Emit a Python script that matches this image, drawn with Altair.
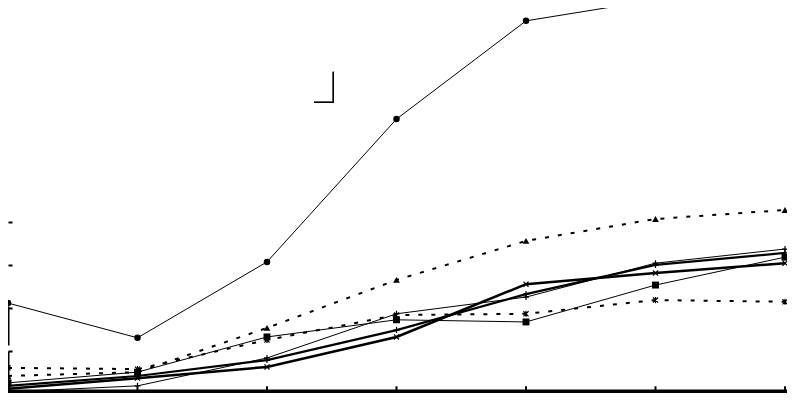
import altair as alt
import pandas as pd

# x categories (7 positions along the horizontal axis)
categories = [0, 1, 2, 3, 4, 5, 6]

# series values
circle_vals = [21.2, 13.1, 30.8, 64.1, 87.0, 91.9, 95.4]
triangle_vals = [4.2, 5.1, 15.4, 26.6, 35.7, 40.8, 42.9]
star_vals = [6.1, 5.8, 12.6, 18.4, 18.7, 21.9, 21.5]
square_vals = [2.6, 5.1, 13.3, 17.3, 16.8, 25.4, 31.9]
plus_thin_vals = [0.5, 1.9, 8.4, 18.7, 22.6, 30.5, 33.8]
plus_thick_vals = [1.9, 4.2, 7.9, 14.9, 23.3, 30.1, 32.9]
x_thick_vals = [1.2, 3.7, 6.3, 13.3, 25.6, 28.2, 30.5]

# y axis tick values and the two fragments of the vertical axis line
y_ticks = [10, 20, 30, 40]
yaxis_lo = [0, 11.3]
yaxis_hi = [9.9, 20.4]
# x tick marks drawn as short rules rising from the axis line
xtick_lo = [0] * 7
xtick_hi = [1.8] * 7

PLUS = "M-1,0L1,0M0,-1L0,1"
CROSS = "M-1,-1L1,1M-1,1L1,-1"
STAR = "M-1,-1L1,1M-1,1L1,-1M0,-1.2L0,1.2"

series = [
    ("circle", circle_vals, {"strokeWidth": 1}, {"shape": "circle", "filled": True, "size": 42}),
    ("triangle", triangle_vals, {"strokeWidth": 2, "strokeDash": [4, 9]}, {"shape": "triangle-up", "filled": True, "size": 45}),
    ("star", star_vals, {"strokeWidth": 2, "strokeDash": [4, 9]}, {"shape": STAR, "filled": False, "size": 26, "strokeWidth": 1.2}),
    ("square", square_vals, {"strokeWidth": 1}, {"shape": "square", "filled": True, "size": 48}),
    ("plus_thin", plus_thin_vals, {"strokeWidth": 1}, {"shape": PLUS, "filled": False, "size": 36, "strokeWidth": 1.2}),
    ("plus_thick", plus_thick_vals, {"strokeWidth": 2.2}, {"shape": PLUS, "filled": False, "size": 36, "strokeWidth": 1.2}),
    ("x_thick", x_thick_vals, {"strokeWidth": 2.5}, {"shape": CROSS, "filled": False, "size": 26, "strokeWidth": 1.2}),
]

W, H = 779, 385
PX_PER_UNIT = 4.289
Y_MIN = 1 / PX_PER_UNIT
x_scale = alt.Scale(domain=[0, W / 129.5], nice=False, zero=False)
y_scale = alt.Scale(domain=[Y_MIN, Y_MIN + H / PX_PER_UNIT], nice=False, zero=False)

x_axis = alt.Axis(values=categories, labels=False, title=None, grid=False,
                  domainWidth=4, domainColor="black", tickColor="black",
                  tickWidth=2, tickSize=7, offset=-2)
y_axis = alt.Axis(values=y_ticks, labels=False, title=None, grid=False,
                  domain=False, tickColor="black", tickWidth=2, tickSize=4,
                  offset=-4)


def enc_x(field="x"):
    return alt.X(f"{field}:Q", scale=x_scale, axis=x_axis)


def enc_y(field="y"):
    return alt.Y(f"{field}:Q", scale=y_scale, axis=y_axis)


layers = []
for name, vals, line_style, point_style in series:
    df = pd.DataFrame({"x": categories, "y": vals, "s": name})
    base = alt.Chart(df)
    layers.append(base.mark_line(color="black", clip=False, **line_style).encode(x=enc_x(), y=enc_y()))
    layers.append(base.mark_point(color="black", clip=False, opacity=1, **point_style).encode(x=enc_x(), y=enc_y()))

seg_df = pd.DataFrame({"x": [categories[0]] * len(yaxis_lo), "lo": yaxis_lo, "hi": yaxis_hi})
layers.append(alt.Chart(seg_df).mark_rule(color="black", strokeWidth=3).encode(
    x=enc_x(), y=enc_y("lo"), y2="hi:Q"))

tick_df = pd.DataFrame({"x": categories, "lo": xtick_lo, "hi": xtick_hi})
layers.append(alt.Chart(tick_df).mark_rule(color="black", strokeWidth=2).encode(
    x=enc_x(), y=enc_y("lo"), y2="hi:Q"))

# small corner fragment in the upper middle
layers.append(alt.Chart(seg_df).mark_rule(color="black", strokeWidth=1.4).encode(
    x=alt.value(325.3), y=alt.value(63.7), y2=alt.value(94.8)))
layers.append(alt.Chart(seg_df).mark_rule(color="black", strokeWidth=1.4).encode(
    x=alt.value(306), x2=alt.value(326), y=alt.value(94.3)))

chart = alt.layer(*layers).properties(
    width=W, height=H,
    padding={"left": 0, "top": 0, "right": 0, "bottom": 0},
    autosize=alt.AutoSizeParams(type="none"),
    background="white",
).configure_view(stroke=None)

chart.save("out.html", embed_options={"renderer": "svg", "actions": False})
